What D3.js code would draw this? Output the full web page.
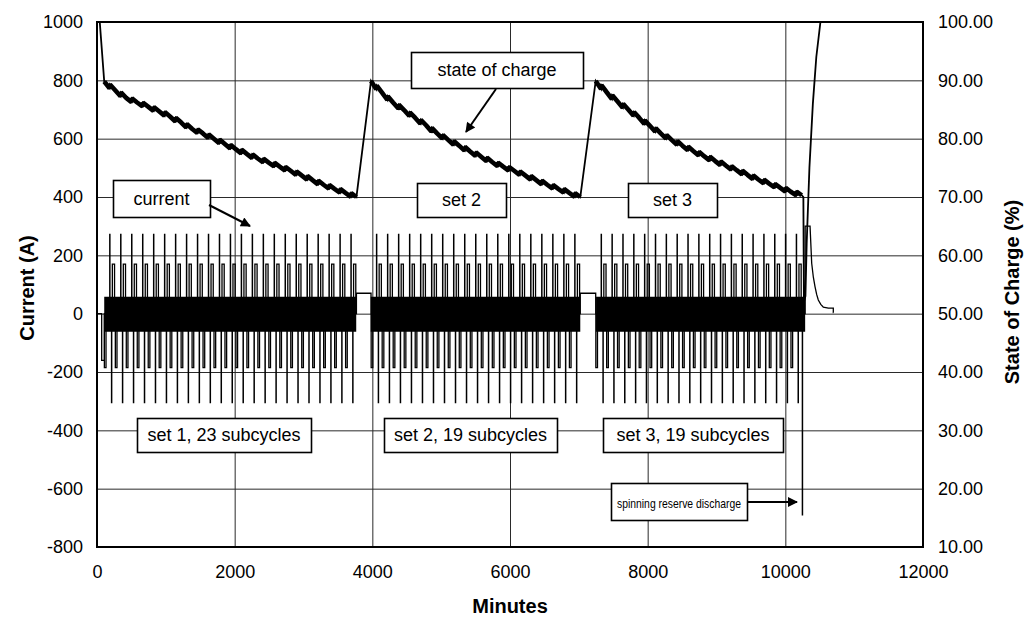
<!DOCTYPE html>
<html><head><meta charset="utf-8">
<script src="https://cdn.jsdelivr.net/npm/d3@7"></script>
<style>
body{margin:0;background:#fff;}
svg{display:block;font-family:"Liberation Sans",Arial,sans-serif;}
</style></head><body>
<svg id="chart" width="1027" height="618"></svg>
<script>
// ---------------- data ----------------
const xTicks = [0, 2000, 4000, 6000, 8000, 10000, 12000];
const currentTicks = [-800, -600, -400, -200, 0, 200, 400, 600, 800, 1000];
const socTicks = [10, 20, 30, 40, 50, 60, 70, 80, 90, 100];

// test sets: start minute, subcycle period (min), number of subcycles
const setStarts = [105, 3981, 7245];
const setPeriods = [159.3, 160, 157.5];
const setSubcycles = [23, 19, 19];

// current profile of one subcycle: [minute offset, current A]
const subcycleProfile = [
  [0, 0], [2, 0], [2, -185], [26, -185], [26, 0],
  [80, 0], [80, 272], [83, 272], [83, 0],
  [106, 0], [106, -305], [109, -305], [109, 0],
  [118, 0], [118, 170], [150, 170], [150, 0]
];
// dense regulation band (min, max current) during each set
const bandSpans = [[105, 3766], [3977, 7021], [7250, 10288]];
const bandLimits = [-62, 58];
const currentHead = [[0, 0], [68, 0], [68, -160], [105, -160], [105, 0]];
const chargeCurrent = 70;
const currentTail = [
  [10237.5, 0], [10247, 0], [10247, -690], [10250, -690], [10250, 0],
  [10288, 0], [10288, 300], [10359, 300], [10383, 173], [10407, 125],
  [10431, 93], [10455, 66], [10479, 47], [10515, 32], [10552, 22],
  [10625, 19], [10697, 19], [10697, 4], [10700, 4]
];

// state of charge (%) at each subcycle boundary
const set1Soc = [89.8, 88.3, 87.0, 86.2, 85.5, 84.7, 83.8, 82.8, 81.7, 80.9, 80.0, 79.1,
                 78.2, 77.4, 76.6, 75.9, 75.2, 74.5, 73.7, 72.9, 72.1, 71.4, 70.7, 70.0];
const set2Soc = [89.9, 87.9, 86.2, 84.9, 83.6, 82.3, 80.9, 79.8, 78.8, 77.8, 76.9, 76.0,
                 75.2, 74.5, 73.7, 72.9, 72.1, 71.4, 70.7, 70.0];
const set3Soc = [89.9, 88.0, 86.4, 85.0, 83.6, 82.2, 80.9, 79.8, 78.8, 77.9, 77.0, 76.2,
                 75.4, 74.6, 73.8, 73.0, 72.3, 71.6, 70.9, 70.3];
// SOC tooth inside a subcycle: [minute offset, share of subcycle drop, extra %]
const socTooth = [[78, 0.6, -0.25], [83, 0.6, 0.4]];
const socHead = [[40, 100], [105, 89.8]];
const socTail = [[10262, 70.0], [10270, 52], [10292, 53], [10310, 62], [10350, 75],
                 [10400, 86], [10450, 94], [10510, 100]];

// ---------------- build series ----------------
const currentSeries = [...currentHead];
setStarts.forEach((s, k) => {
  for (let i = 0; i < setSubcycles[k]; i++) {
    const t0 = s + i * setPeriods[k];
    subcycleProfile.forEach(([dt, a]) => currentSeries.push([t0 + dt, a]));
  }
  const end = s + setSubcycles[k] * setPeriods[k];
  currentSeries.push([end, 0]);
  if (k < setStarts.length - 1) {
    currentSeries.push([end, chargeCurrent], [setStarts[k + 1], chargeCurrent], [setStarts[k + 1], 0]);
  }
});
currentSeries.push(...currentTail);

const socSets = [set1Soc, set2Soc, set3Soc];
const socSeries = [...socHead];
const socSetSeries = [];
socSets.forEach((arr, k) => {
  const s = setStarts[k], P = setPeriods[k];
  const part = [];
  for (let i = 0; i < arr.length - 1; i++) {
    const t0 = s + i * P, S0 = arr[i], S1 = arr[i + 1], d = S0 - S1;
    part.push([t0, S0]);
    socTooth.forEach(([dt, f, e]) => part.push([t0 + dt, S0 - f * d + e]));
  }
  part.push([s + (arr.length - 1) * P, arr[arr.length - 1]]);
  socSetSeries.push(part);
  socSeries.push(...part);
});
socSeries.push(...socTail);

// ---------------- chart ----------------
const svg = d3.select("#chart");
const L = 97, R = 923, T = 22, B = 547;
const x = d3.scaleLinear().domain([0, 12000]).range([L, R]);
const yC = d3.scaleLinear().domain([-800, 1000]).range([B, T]);
const yS = d3.scaleLinear().domain([10, 100]).range([B, T]);

// grid
const grid = svg.append("g").attr("stroke", "#2a2a2a").attr("stroke-width", 1);
grid.selectAll(".h").data(currentTicks).join("line")
  .attr("x1", L).attr("x2", R).attr("y1", d => yC(d) + 0.5).attr("y2", d => yC(d) + 0.5);
grid.selectAll(".v").data(xTicks).join("line")
  .attr("y1", T).attr("y2", B).attr("x1", d => x(d) + 0.5).attr("x2", d => x(d) + 0.5);

// clip + current band
svg.append("clipPath").attr("id", "clip").append("rect")
  .attr("x", L).attr("y", T).attr("width", R - L).attr("height", B - T);
const plot = svg.append("g").attr("clip-path", "url(#clip)");
plot.selectAll(".band").data(bandSpans).join("rect")
  .attr("x", d => x(d[0])).attr("width", d => x(d[1]) - x(d[0]))
  .attr("y", yC(bandLimits[1])).attr("height", yC(bandLimits[0]) - yC(bandLimits[1]))
  .attr("fill", "#000");

// current line
plot.append("path").datum(currentSeries)
  .attr("fill", "none").attr("stroke", "#000").attr("stroke-width", 1.3)
  .attr("d", d3.line().x(d => x(d[0])).y(d => yC(d[1])));

// SOC line
plot.append("path").datum(socSeries)
  .attr("fill", "none").attr("stroke", "#000").attr("stroke-width", 1.8)
  .attr("d", d3.line().x(d => x(d[0])).y(d => yS(d[1])));
plot.selectAll(".socset").data(socSetSeries).join("path")
  .attr("fill", "none").attr("stroke", "#000").attr("stroke-width", 4.6)
  .attr("stroke-linejoin", "bevel")
  .attr("d", d3.line().x(d => x(d[0])).y(d => yS(d[1])));

// frame
svg.append("rect").attr("x", L).attr("y", T).attr("width", R - L).attr("height", B - T)
  .attr("fill", "none").attr("stroke", "#000").attr("stroke-width", 2);

// axes
const fs = "18px";
const axL = svg.append("g").attr("transform", `translate(${L},0)`)
  .call(d3.axisLeft(yC).tickValues(currentTicks).tickSize(0).tickPadding(14).tickFormat(d => String(d)));
const axR = svg.append("g").attr("transform", `translate(${R},0)`)
  .call(d3.axisRight(yS).tickValues(socTicks).tickSize(0).tickPadding(15).tickFormat(d => d.toFixed(2)));
const axB = svg.append("g").attr("transform", `translate(0,${B})`)
  .call(d3.axisBottom(x).tickValues(xTicks).tickSize(0).tickPadding(18).tickFormat(d => String(d)));
[axL, axR, axB].forEach(a => {
  a.select(".domain").remove();
  a.selectAll("text").attr("font-size", fs).attr("fill", "#000")
    .attr("font-family", '"Liberation Sans",Arial,sans-serif');
});

// axis titles
svg.append("text").attr("transform", "translate(34,288) rotate(-90)")
  .attr("text-anchor", "middle").attr("font-size", "20px").attr("font-weight", "bold")
  .text("Current (A)");
svg.append("text").attr("transform", "translate(1019,292) rotate(-90)")
  .attr("text-anchor", "middle").attr("font-size", "20px").attr("font-weight", "bold")
  .text("State of Charge (%)");
svg.append("text").attr("x", 510).attr("y", 613)
  .attr("text-anchor", "middle").attr("font-size", "20px").attr("font-weight", "bold")
  .text("Minutes");

// annotations
const defs = svg.append("defs");
defs.append("marker").attr("id", "arr").attr("viewBox", "0 0 10 10")
  .attr("refX", 9).attr("refY", 5).attr("markerWidth", 6).attr("markerHeight", 5)
  .attr("markerUnits", "strokeWidth").attr("orient", "auto")
  .append("path").attr("d", "M0,0 L10,5 L0,10 Z").attr("fill", "#000");

const boxes = [
  {t: "state of charge", x: 411, y: 52, w: 172, h: 36},
  {t: "current", x: 113, y: 180, w: 97, h: 37},
  {t: "set 2", x: 417, y: 183, w: 89, h: 34},
  {t: "set 3", x: 628, y: 183, w: 89, h: 34},
  {t: "set 1, 23 subcycles", x: 137, y: 418, w: 174, h: 34},
  {t: "set 2, 19 subcycles", x: 384, y: 418, w: 173, h: 34},
  {t: "set 3, 19 subcycles", x: 603, y: 418, w: 180, h: 34},
  {t: "spinning reserve discharge", x: 611, y: 483, w: 136, h: 37, fs: 13.5, len: 124}
];
const bg = svg.selectAll(".box").data(boxes).join("g");
bg.append("rect").attr("x", d => d.x + 0.5).attr("y", d => d.y + 0.5)
  .attr("width", d => d.w).attr("height", d => d.h)
  .attr("fill", "#fff").attr("stroke", "#000").attr("stroke-width", 1.6);
bg.append("text").attr("x", d => d.x + d.w / 2).attr("y", d => d.y + d.h / 2 + 6)
  .attr("text-anchor", "middle").attr("font-size", d => (d.fs || 18) + "px")
  .each(function (d) {
    if (d.len) d3.select(this).attr("textLength", d.len).attr("lengthAdjust", "spacingAndGlyphs");
  })
  .text(d => d.t);

const arrows = [
  [209, 205, 250, 226],
  [496, 89, 466, 132],
  [748, 502, 797, 502]
];
svg.selectAll(".arrow").data(arrows).join("line")
  .attr("x1", d => d[0]).attr("y1", d => d[1]).attr("x2", d => d[2]).attr("y2", d => d[3])
  .attr("stroke", "#000").attr("stroke-width", 2).attr("marker-end", "url(#arr)");
</script>
</body></html>
